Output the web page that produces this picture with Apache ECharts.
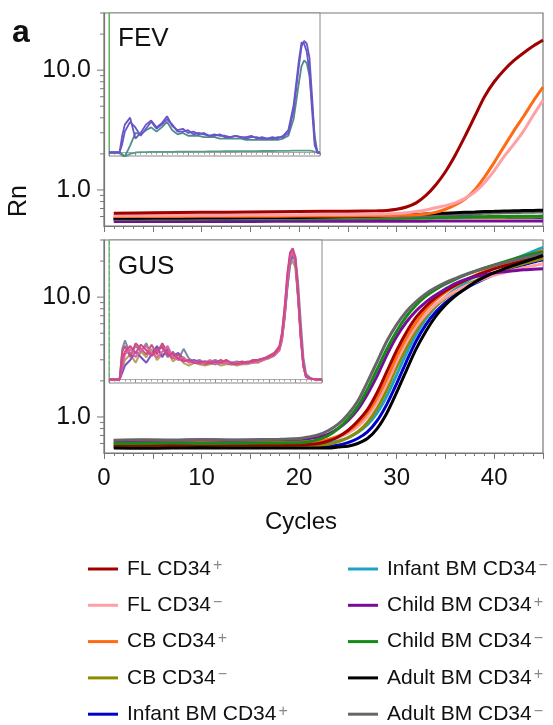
<!DOCTYPE html>
<html><head><meta charset="utf-8">
<script src="https://cdn.jsdelivr.net/npm/echarts@6/dist/echarts.min.js"></script>
<style>html,body{margin:0;padding:0;background:#fff}#c{width:553px;height:725px}</style>
</head><body><div id="c"></div>
<script>
// ---------- categories ----------
const sampleNames = ['FL CD34+','FL CD34−','CB CD34+','CB CD34−','Infant BM CD34+',
  'Infant BM CD34−','Child BM CD34+','Child BM CD34−','Adult BM CD34+','Adult BM CD34−'];
const sampleColors = ['#a00000','#ffa0a6','#ff6a13','#8c8c00','#0000c8',
  '#1fa2c4','#7a0a9a','#168a16','#000000','#666666'];

// ---------- tick labels ----------
const xTickLabels = [0,10,20,30,40];
const logMajorTicks = [1,10];
const logMinorTicks = [0.6,0.7,0.8,0.9,2,3,4,5,6,7,8,9,20,30];

// ---------- FEV amplification (Rn vs cycle) ----------
const fevCycles = [1,5,10,15,20,25,28,29,30,31,32,33,34,35,36,37,38,39,40,41,42,43,44,45];
const fevFLpos   = [0.64,0.645,0.65,0.655,0.66,0.665,0.67,0.675,0.69,0.72,0.78,0.9,1.1,1.42,1.95,2.8,4.1,6.0,8.0,10.0,12.0,13.9,15.9,17.8];
const fevFLneg   = [0.61,0.612,0.615,0.617,0.62,0.625,0.63,0.632,0.635,0.645,0.66,0.68,0.71,0.74,0.78,0.85,0.96,1.15,1.45,1.9,2.4,3.1,4.2,5.6];
const fevCBpos   = [0.6,0.6,0.602,0.603,0.605,0.607,0.61,0.61,0.612,0.615,0.62,0.63,0.65,0.69,0.75,0.84,1.0,1.28,1.7,2.3,3.1,4.1,5.5,7.2];
const fevCBneg   = [0.575,0.575,0.576,0.577,0.578,0.58,0.58,0.58,0.581,0.582,0.583,0.584,0.585,0.586,0.587,0.588,0.589,0.59,0.59,0.59,0.591,0.592,0.593,0.594];
const fevInfPos  = [0.57,0.57,0.572,0.573,0.575,0.578,0.58,0.582,0.585,0.59,0.595,0.6,0.605,0.605,0.6,0.598,0.595,0.592,0.59,0.59,0.59,0.59,0.59,0.59];
const fevInfNeg  = [0.575,0.575,0.575,0.576,0.577,0.578,0.58,0.58,0.58,0.58,0.582,0.584,0.585,0.587,0.588,0.59,0.59,0.59,0.59,0.59,0.59,0.59,0.59,0.59];
const fevChPos   = [0.545,0.545,0.546,0.546,0.547,0.547,0.548,0.548,0.548,0.548,0.549,0.549,0.55,0.55,0.55,0.55,0.55,0.55,0.55,0.55,0.55,0.55,0.55,0.55];
const fevChNeg   = [0.57,0.57,0.571,0.572,0.573,0.575,0.577,0.578,0.58,0.582,0.584,0.586,0.588,0.59,0.592,0.594,0.596,0.598,0.6,0.601,0.602,0.603,0.604,0.605];
const fevAdPos   = [0.58,0.582,0.585,0.588,0.59,0.6,0.605,0.61,0.615,0.62,0.625,0.63,0.635,0.64,0.645,0.65,0.655,0.66,0.663,0.666,0.669,0.672,0.675,0.678];
const fevAdNeg   = [0.57,0.572,0.575,0.578,0.58,0.585,0.59,0.592,0.595,0.6,0.605,0.61,0.615,0.62,0.625,0.63,0.635,0.638,0.641,0.644,0.647,0.65,0.652,0.655];

// ---------- GUS amplification ----------
const gusCycles = [1,4,7,10,13,16,18,20,21,22,23,24,25,26,27,28,29,30,31,32,33,34,35,36,37,38,39,40,41,42,43,44,45];
const gusFLpos  = [0.58,0.58,0.582,0.58,0.583,0.582,0.584, 0.585,0.59,0.6,0.63,0.68,0.77,0.92,1.15,1.6,2.4, 3.6,5.1,6.8,8.4,9.9,11.3,12.6,13.8,15.0,16.1, 17.2,18.2,19.2,20.2,21.1,22.0];
const gusFLneg  = [0.615,0.62,0.618,0.62,0.617,0.62,0.62, 0.62,0.62,0.63,0.64,0.67,0.73,0.83,1.0,1.33,1.9, 2.9,4.2,5.7,7.2,8.7,10.0,11.2,12.3,13.3,14.3, 15.2,16.0,16.8,17.6,18.3,19.0];
const gusCBpos  = [0.62,0.625,0.62,0.622,0.62,0.623,0.62, 0.62,0.62,0.63,0.65,0.69,0.76,0.88,1.08,1.45,2.1, 3.2,4.6,6.2,7.9,9.5,11.0,12.4,13.8,15.1,16.4, 17.7,19.0,20.3,21.7,23.1,24.5];
const gusCBneg  = [0.57,0.57,0.572,0.57,0.571,0.57,0.572, 0.57,0.57,0.58,0.59,0.62,0.67,0.75,0.9,1.18,1.7, 2.6,3.8,5.3,6.9,8.4,9.8,11.1,12.4,13.6,14.8, 15.9,17.0,18.0,19.0,20.0,21.0];
const gusInfPos = [0.56,0.56,0.56,0.56,0.562,0.56,0.56, 0.56,0.56,0.56,0.57,0.58,0.61,0.66,0.75,0.93,1.28, 1.9,2.9,4.3,5.9,7.5,9.0,10.4,11.7,13.0,14.2, 15.4,16.5,17.6,18.6,19.6,20.5];
const gusInfNeg = [0.6,0.6,0.6,0.602,0.6,0.6,0.6, 0.6,0.6,0.6,0.61,0.63,0.67,0.74,0.86,1.08,1.5, 2.25,3.4,4.9,6.6,8.3,10.0,11.6,13.2,14.8,16.3, 17.8,19.3,20.8,22.3,24.1,26.0];
const gusChPos  = [0.635,0.64,0.64,0.645,0.64,0.645,0.648, 0.65,0.66,0.68,0.72,0.8,0.93,1.15,1.55,2.2,3.3, 4.7,6.2,7.7,9.1,10.4,11.7,13.0,14.0,14.8,15.4, 15.9,16.3,16.6,16.9,17.1,17.3];
const gusChNeg  = [0.6,0.6,0.605,0.6,0.602,0.605,0.607, 0.61,0.62,0.65,0.7,0.8,0.96,1.22,1.7,2.5,3.7, 5.2,6.9,8.6,10.2,11.6,12.9,14.1,15.3,16.4,17.5, 18.6,19.7,20.8,22.0,23.0,24.0];
const gusAdPos  = [0.55,0.548,0.55,0.552,0.55,0.55,0.55, 0.55,0.55,0.55,0.55,0.56,0.57,0.6,0.66,0.8,1.08, 1.6,2.45,3.7,5.2,6.9,8.6,10.2,11.7,13.3,14.7, 16.0,17.2,18.4,19.6,20.9,22.3];
const gusAdNeg  = [0.64,0.645,0.64,0.645,0.642,0.645,0.65, 0.66,0.68,0.71,0.77,0.87,1.05,1.35,1.95,2.9,4.3, 5.9,7.6,9.2,10.7,12.0,13.2,14.3,15.4,16.4,17.4, 18.4,19.4,20.3,21.2,22.1,23.0];

// ---------- FEV melt-curve inset ----------
const fevMeltX = [0,1,2,2.5,3,4,5,6,7,8,9,10,11,12,13,14,15,16,17,18,19,20,21,22,23,24,25,26,27,28,29,30,31,32,33,34,35,36,36.5,37,37.5,38,38.5,39,39.5,40];
const fevMeltA = [0,0,0,12, 20,25,10,14,20,23,18,21,26,19, 16,17,14,15,13,14,12,13,12,12, 11,12,11,11,12,10,11,10,10,11, 11,14,30,62, 76,80,78,68,40,8,0,0];
const fevMeltB = [0,0,0,6, 15,22,18,12,17,22,17,20,24,20, 15,15,16,13,14,13,12,12,13,11, 11,12,11,10,11,11,10,10,11,10, 12,16,34,66, 79,78,72,58,30,5,0,0];
const fevMeltC = [0,0,0,-2, -3,5,14,13,16,18,15,18,22,16, 13,14,12,12,12,11,11,11,10,10, 10,10,10,9,9,9,9,9,9,9, 10,12,24,50, 62,66,64,55,35,12,0,0];
const fevMeltD = [0,0,0,-1, -3,-1,0,0.3,0.3,0.4,0.4,0.5,0.5,0.5, 0.6,0.6,0.6,0.7,0.7,0.7,0.8,0.8,0.8,0.9, 0.9,0.9,1,1,1,1,1.1,1.1,1.1,1.2, 1.2,1.2,1.3,1.3, 1.3,1.4,1.4,1.4,1.2,0.5,0,0];

// ---------- GUS melt-curve inset ----------
const gusMeltX = [0,1,2,2.5,3,4,5,6,7,8,9,10,11,12,13,14,15,16,17,18,19,20,21,22,23,24,25,26,27,28,29,30,31,32,32.5,33,33.5,34,34.5,35,35.5,36,36.5,37,38,39,40];
const gusMelt1 = [0,0,0,22, 28,18,24,20,26,17,22,24,16,20, 14,22,15,13,14,12,13,14,12,13, 12,13,12,13,13,14,15,16,18,22, 30,46,66,82,88,88,70,42,16,4,0.5,0,0];
const gusMelt2 = [0,0,0,8, 14,18,12,20,16,22,14,18,20,13, 16,12,10,12,11,10,11,12,10,11, 11,10,11,11,12,12,14,15,17,21, 28,44,66,82,85,80,58,30,10,2,0.5,0,0];
const gusMelt3 = [0,0,0,5, 10,14,20,16,12,18,24,16,22,17, 19,15,13,14,12,13,12,11,12,12, 11,12,12,12,13,13,14,16,18,22, 30,46,68,85,90,84,60,32,10,2,0.5,0,0];
const gusMelt4 = [0,0,0,20, 24,16,26,22,18,25,18,26,19,15, 18,14,13,12,13,11,12,12,14,12, 11,12,13,12,14,14,15,17,19,24, 34,52,74,89,92,85,60,30,9,2,0.5,0,0];
const gusMelt5 = [0,0,0,10, 18,22,16,21,24,19,16,20,24,16, 14,16,12,13,11,12,14,11,12,12, 12,12,11,12,12,13,14,16,17,21, 29,47,70,87,91,86,62,33,11,2,0.5,0,0];
const gusMelt6 = [0,0,0,15, 20,24,19,25,21,17,21,23,17,19, 15,13,14,12,12,13,12,13,12,14, 12,11,12,12,13,14,15,16,18,23, 33,52,76,91,94,88,63,33,11,2,0.5,0,0];

// ---------- build ----------
const FONT = 'Liberation Sans, Arial, Helvetica, sans-serif';
const AXIS = '#777';
const pairs = (xs, ys) => xs.map((x, i) => [x, ys[i]]);
const fevValues = [fevFLpos,fevFLneg,fevCBpos,fevCBneg,fevInfPos,fevInfNeg,fevChPos,fevChNeg,fevAdPos,fevAdNeg];
const gusValues = [gusFLpos,gusFLneg,gusCBpos,gusCBneg,gusInfPos,gusInfNeg,gusChPos,gusChNeg,gusAdPos,gusAdNeg];
const fevOrder = [6,5,4,3,7,9,8,2,1,0];
const gusOrder = [5,4,3,1,2,0,6,7,9,8];

const series = [];
fevOrder.forEach(i => series.push({
  type:'line', name:sampleNames[i], xAxisIndex:0, yAxisIndex:0,
  data:pairs(fevCycles, fevValues[i]), symbol:'none', smooth:0.3,
  lineStyle:{width:3, color:sampleColors[i]}, itemStyle:{color:sampleColors[i]}, z:3
}));
gusOrder.forEach(i => series.push({
  type:'line', name:sampleNames[i], xAxisIndex:1, yAxisIndex:1,
  data:pairs(gusCycles, gusValues[i]), symbol:'none', smooth:0.3,
  lineStyle:{width:3, color:sampleColors[i]}, itemStyle:{color:sampleColors[i]}, z:3
}));
const fevMelt = [[fevMeltD,'#5c9c8a'],[fevMeltC,'#4e8c8c'],[fevMeltB,'#5b5bd0'],[fevMeltA,'#6f52c4']];
fevMelt.forEach(([v,c],k) => series.push({
  type:'line', name:'fevMelt'+k, xAxisIndex:2, yAxisIndex:2, data:pairs(fevMeltX, v),
  symbol:'none', lineStyle:{width:1.8, color:c}, z:6
}));
const gusMelt = [[gusMelt2,'#b4a45c'],[gusMelt1,'#7a8ea0'],[gusMelt3,'#7c52c8'],[gusMelt4,'#c8507a'],[gusMelt5,'#e0649e'],[gusMelt6,'#d2468e']];
gusMelt.forEach(([v,c],k) => series.push({
  type:'line', name:'gusMelt'+k, xAxisIndex:3, yAxisIndex:3, data:pairs(gusMeltX, v),
  symbol:'none', lineStyle:{width:2, color:c}, z:6
}));
function tickSeries(ax){
  return {
    type:'custom', xAxisIndex:ax, yAxisIndex:ax, silent:true, z:5,
    data: logMinorTicks.map(v => [0, v, 0]).concat(logMajorTicks.map(v => [0, v, 1])),
    renderItem:(p, api) => {
      const pt = api.coord([api.value(0), api.value(1)]);
      const len = api.value(2) ? 7 : 4;
      return {type:'line', shape:{x1:pt[0]-len, y1:pt[1], x2:pt[0], y2:pt[1]},
              style:{stroke:AXIS, lineWidth:1}};
    }
  };
}
series.push(tickSeries(0), tickSeries(1));

const logFmt = v => (Math.abs(v-1) < 1e-6 ? '1.0' : (Math.abs(v-10) < 1e-5 ? '10.0' : ''));
function mainX(gi, labels){
  return {type:'value', gridIndex:gi, min:0, max:45, interval:5,
    axisLine:{lineStyle:{color:AXIS, width:1.2}},
    axisTick:{length:6, lineStyle:{color:AXIS}},
    minorTick:{show:true, splitNumber:5, length:3, lineStyle:{color:AXIS}},
    splitLine:{show:false},
    axisLabel:{show:labels, fontSize:24, fontFamily:FONT, color:'#111', margin:13,
      formatter: v => (xTickLabels.indexOf(v) >= 0 ? String(v) : '')}};
}
function mainY(gi){
  return {type:'log', logBase:10, gridIndex:gi, min:0.5, max:30,
    axisLine:{show:true, lineStyle:{color:AXIS, width:1.2}},
    axisTick:{show:false}, splitLine:{show:false}, minorTick:{show:false},
    axisLabel:{fontSize:25, fontFamily:FONT, color:'#111', margin:13, formatter:logFmt,
      showMinLabel:false, showMaxLabel:false}};
}
function insetX(gi){
  return {type:'value', gridIndex:gi, min:0, max:40, interval:5,
    axisLine:{lineStyle:{color:'#aaa', width:1}},
    axisTick:{length:3, lineStyle:{color:'#888'}},
    minorTick:{show:true, splitNumber:5, length:2, lineStyle:{color:'#999'}},
    splitLine:{show:false}, axisLabel:{show:false}};
}
function insetY(gi, dashed){
  return {type:'value', gridIndex:gi, min:-2.5, max:100,
    axisLine:{show:true, lineStyle:{color:'#4cc44c', width:1, type: dashed ? 'dashed' : 'solid'}},
    axisTick:{show:false}, splitLine:{show:false}, axisLabel:{show:false}};
}
function legendFmt(name){
  return '{t|' + name.slice(0, -1) + '}{s|' + name.slice(-1) + '}';
}
const legendText = {fontFamily:FONT, fontSize:21, color:'#111',
  rich:{t:{fontFamily:FONT, fontSize:21, lineHeight:22, color:'#111', padding:[0,0,0,4]},
        s:{fontFamily:FONT, fontSize:16, lineHeight:14, color:'#888', verticalAlign:'top', padding:[0,0,0,2]}}};
function legendCol(names, left){
  return {data:names, left:left, top:558, height:200, padding:0, orient:'vertical', icon:'rect',
    itemWidth:30, itemHeight:3, itemGap:14.8, formatter:legendFmt, textStyle:legendText,
    selectedMode:false};
}

const chart = echarts.init(document.getElementById('c'));
chart.setOption({
  animation:false,
  backgroundColor:'#fff',
  grid:[
    {left:104, top:13, width:439, height:213, show:true, borderColor:AXIS, borderWidth:1.2},
    {left:104, top:240, width:439, height:213, show:true, borderColor:AXIS, borderWidth:1.2},
    {left:109, top:13, width:211, height:143, show:true, backgroundColor:'#fff', borderColor:'#888', borderWidth:1},
    {left:109, top:240, width:213, height:143, show:true, backgroundColor:'#fff', borderColor:'#888', borderWidth:1}
  ],
  xAxis:[mainX(0,false), mainX(1,true), insetX(2), insetX(3)],
  yAxis:[mainY(0), mainY(1), insetY(2,false), insetY(3,true)],
  legend:[legendCol(sampleNames.slice(0,5), 88), legendCol(sampleNames.slice(5), 348)],
  graphic:[
    {type:'text', left:12, top:17, z:10, style:{text:'a', font:'bold 32px ' + FONT, fill:'#111'}},
    {type:'text', x:118, y:39, z:10, style:{text:'FEV', font:'26px ' + FONT, fill:'#111', verticalAlign:'middle'}},
    {type:'text', x:118, y:267, z:10, style:{text:'GUS', font:'26px ' + FONT, fill:'#111', verticalAlign:'middle'}},
    {type:'text', x:301, y:522, z:10, style:{text:'Cycles', font:'24px ' + FONT, fill:'#111', align:'center', verticalAlign:'middle'}},
    {type:'text', x:19, y:201, rotation:Math.PI/2, z:10, style:{text:'Rn', font:'25px ' + FONT, fill:'#111', align:'center', verticalAlign:'middle'}}
  ],
  series:series
});
</script></body></html>
